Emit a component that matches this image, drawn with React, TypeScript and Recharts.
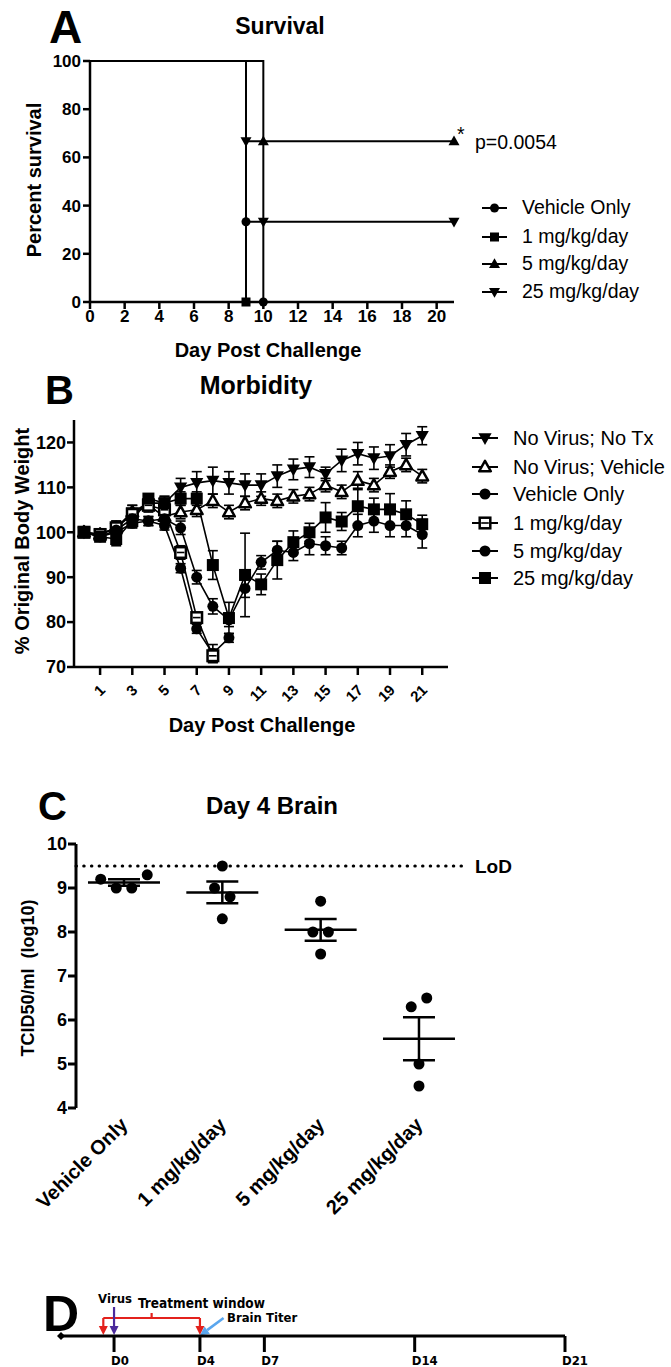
import React from "react";
import {
  ComposedChart,
  Line,
  Scatter,
  XAxis,
  YAxis,
  ErrorBar,
  ReferenceLine,
  ReferenceDot,
} from "recharts";

const FONT = "'Liberation Sans', Arial, Helvetica, sans-serif";
const NARROW = "'Liberation Sans Narrow', 'DejaVu Sans Condensed', 'Liberation Sans', sans-serif";

// ---------- A: survival ----------
const survTicksX = [0, 2, 4, 6, 8, 10, 12, 14, 16, 18, 20];
const survTicksY = [0, 20, 40, 60, 80, 100];
const survVehicleDays = [0, 9, 10];
const survVehiclePct = [100, 33.3, 0];
const surv1Days = [0, 9];
const surv1Pct = [100, 0];
const surv5Days = [0, 10, 21];
const surv5Pct = [100, 66.7, 66.7];
const surv25Days = [0, 9, 10, 21];
const surv25Pct = [100, 66.7, 33.3, 33.3];

// ---------- B: morbidity (% body weight) ----------
const bwDays = [0, 1, 2, 3, 4, 5, 6, 7, 8, 9, 10, 11, 12, 13, 14, 15, 16, 17, 18, 19, 20, 21];
const bwTicksX = [1, 3, 5, 7, 9, 11, 13, 15, 17, 19, 21];
const bwTicksY = [70, 80, 90, 100, 110, 120];
const bwNoVirusNoTx = [100, 99.5, 101, 104.5, 106.5, 106.5, 110, 111, 111.5, 111, 110.5, 110.5, 112.5, 114, 114.5, 113, 116, 117.5, 116.5, 117, 119.5, 121.5];
const bwNoVirusNoTxErr = [0.5, 1, 1.5, 1.5, 1.5, 1.5, 2, 2.5, 3, 2.5, 2.5, 2.5, 2.5, 2.3, 2.3, 1.5, 2.5, 2.5, 2.5, 2.5, 2.5, 2];
const bwNoVirusVeh = [100, 99.5, 101, 104.5, 106, 103.5, 104.5, 105, 107, 104.5, 106.5, 107.5, 107, 108, 108.5, 110.5, 109, 111.5, 110.5, 113.5, 115, 112.5];
const bwNoVirusVehErr = [0.5, 1, 1.5, 1.5, 1.5, 1.5, 1.5, 1.5, 1.5, 1.5, 1.5, 1.5, 1.5, 1.5, 1.5, 1.5, 1.5, 2, 1.5, 1.5, 1.5, 1.5];
const bwVehicle = [100, 99, 100, 102, 102.5, 101.5, 92, 78.5, 73, 76.5];
const bwVehicleErr = [0.5, 1, 1, 1, 1, 1, 1, 1, 2, 1];
const bw1mg = [100, 99.5, 101, 104, 106, 105, 95.5, 81, 72.5];
const bw1mgErr = [0.5, 1, 1, 1, 1, 1, 1.5, 1, 1.5];
const bw5mg = [100, 99, 100.5, 103, 102.5, 103, 101, 90, 83.5, 80.5, 87.5, 93.3, 96, 95.5, 97.5, 97, 96.5, 101.5, 102.5, 101.5, 101.5, 99.5];
const bw5mgErr = [0.5, 1, 1, 1, 1, 1, 1.5, 1.5, 1.7, 1.5, 2, 1.5, 2, 1.8, 2.5, 2, 1.5, 2.5, 2.5, 2.5, 2.5, 3];
const bw25mg = [100, 99, 98.5, 102.5, 107.5, 106.5, 107.5, 107.5, 92.7, 80.9, 90.5, 88.4, 93.8, 97.8, 100, 103.3, 102.4, 105.8, 105.1, 105.1, 104, 101.8];
const bw25mgErr = [0.5, 1, 1.5, 1.5, 1, 1.5, 1.5, 1.5, 3.2, 3.5, 9.3, 2.3, 4.2, 2.5, 2, 3.3, 2, 4, 2.5, 3.5, 3, 2];

// ---------- C: day 4 brain titer ----------
const titerGroups = ["Vehicle Only", "1 mg/kg/day", "5 mg/kg/day", "25 mg/kg/day"];
const titerVehicle = [9.2, 9.0, 9.0, 9.3];
const titer1mg = [9.5, 9.0, 8.8, 8.3];
const titer5mg = [8.7, 8.0, 8.0, 7.5];
const titer25mg = [6.3, 6.5, 5.0, 4.5];
const titerTicksY = [4, 5, 6, 7, 8, 9, 10];
const lodLog10 = 9.5;

// ---------- D: timeline ----------
const tlDays = [0, 4, 7, 14, 21];
const tlStart = -2.47;
const virusDay = 0;
const treatStartDay = -0.5;
const treatEndDay = 4;
const titerDay = 4;

// ---------- helpers ----------
const zip = (days: number[], vals: number[], errs?: number[]) =>
  vals.map((v, i) => ({ day: days[i], v, e: errs ? errs[i] : 0 }));

const mean = (a: number[]) => a.reduce((s, v) => s + v, 0) / a.length;
const sem = (a: number[]) => {
  const m = mean(a);
  const sd = Math.sqrt(a.reduce((s, v) => s + (v - m) * (v - m), 0) / (a.length - 1));
  return sd / Math.sqrt(a.length);
};

// simple beeswarm: points closer than one dot (in px) get spread sideways
const swarm = (vals: number[], gi: number) => {
  const pxPerLog = 44, dot = 11, step = 15.5, pxPerCat = 98.3;
  const order = vals.map((_, i) => i).sort((a, b) => vals[a] - vals[b]);
  const clusters: number[][] = [];
  order.forEach((idx, k) => {
    if (k > 0 && (vals[idx] - vals[order[k - 1]]) * pxPerLog < dot) clusters[clusters.length - 1].push(idx);
    else clusters.push([idx]);
  });
  const off = new Array(vals.length).fill(0);
  clusters.forEach((c) => {
    c.sort((a, b) => a - b).forEach((idx, j) => {
      off[idx] = ((j - (c.length - 1) / 2) * step) / pxPerCat;
    });
  });
  return vals.map((v, i) => ({ x: gi + off[i], y: v }));
};

type Kind = "circle" | "square" | "up" | "down" | "openUp" | "openSquare";

const Marker = ({ cx, cy, kind, s }: { cx: number; cy: number; kind: Kind; s: number }) => {
  if (cx == null || cy == null) return null;
  const h = s / 2;
  switch (kind) {
    case "circle":
      return <circle cx={cx} cy={cy} r={h} fill="#000" />;
    case "square":
      return <rect x={cx - h} y={cy - h} width={s} height={s} fill="#000" />;
    case "up":
      return <polygon points={`${cx},${cy - h * 1.15} ${cx + h * 1.1},${cy + h * 0.8} ${cx - h * 1.1},${cy + h * 0.8}`} fill="#000" />;
    case "down":
      return <polygon points={`${cx},${cy + h * 1.15} ${cx + h * 1.1},${cy - h * 0.8} ${cx - h * 1.1},${cy - h * 0.8}`} fill="#000" />;
    case "openUp": {
      const k = h - 1.2;
      return (
        <polygon
          points={`${cx},${cy - k * 1.15} ${cx + k * 1.1},${cy + k * 0.8} ${cx - k * 1.1},${cy + k * 0.8}`}
          fill="#fff"
          stroke="#000"
          strokeWidth={2.5}
          strokeLinejoin="round"
        />
      );
    }
    case "openSquare": {
      const k = h - 1.2;
      return (
        <g>
          <rect x={cx - k} y={cy - k} width={2 * k} height={2 * k} fill="#fff" stroke="#000" strokeWidth={2.5} />
          <line x1={cx - k + 1.5} x2={cx + k - 1.5} y1={cy} y2={cy} stroke="#000" strokeWidth={1.6} />
        </g>
      );
    }
  }
  return null;
};

const dotOf = (kind: Kind, s: number, skipFirst = false) => (p: any) =>
  skipFirst && p.index === 0 ? (
    <g key={`d${p.index}`} />
  ) : (
    <Marker key={`d${p.index}`} cx={p.cx} cy={p.cy} kind={kind} s={s} />
  );

// text placed by baseline
const T = ({ x, y, size, bold = false, anchor = "start", font = FONT, color = "#000", children }: any) => (
  <div
    style={{
      position: "absolute",
      left: x,
      top: y - 0.85 * size,
      fontSize: size,
      lineHeight: 1,
      fontWeight: bold ? 700 : 400,
      fontFamily: font,
      color,
      whiteSpace: "nowrap",
      transform: anchor === "middle" ? "translateX(-50%)" : anchor === "end" ? "translateX(-100%)" : undefined,
    }}
  >
    {children}
  </div>
);

const VT = ({ cx, cy, size, children }: any) => (
  <div
    style={{
      position: "absolute",
      left: cx,
      top: cy,
      fontSize: size,
      lineHeight: 1,
      fontWeight: 700,
      fontFamily: FONT,
      whiteSpace: "pre",
      transform: "translate(-50%, -50%) rotate(-90deg)",
    }}
  >
    {children}
  </div>
);

const LegendRow = ({ x1, x2, y, kind, s, label, tx, size }: any) => (
  <>
    <svg style={{ position: "absolute", left: x1, top: y - 10 }} width={x2 - x1} height={20}>
      <line x1={0} x2={x2 - x1} y1={10} y2={10} stroke="#000" strokeWidth={2} />
      <Marker cx={(x2 - x1) / 2} cy={10} kind={kind} s={s} />
    </svg>
    <T x={tx} y={y + 7} size={size}>
      {label}
    </T>
  </>
);

const axisStyle = (w: number) => ({ stroke: "#000", strokeWidth: w });
const tickFont = (size: number) => ({ fontSize: size, fontWeight: 700, fill: "#000", fontFamily: FONT });

const DayTick = ({ x, y, payload }: any) => (
  <text
    x={x + 6}
    y={y + 14}
    transform={`rotate(-45 ${x + 6} ${y + 14})`}
    textAnchor="end"
    fontSize={15}
    fontWeight={700}
    fontFamily={FONT}
    fill="#000"
  >
    {payload.value}
  </text>
);

const CatTick = ({ x, y, payload }: any) => (
  <text
    x={x + 5}
    y={y + 16}
    transform={`rotate(-45 ${x + 5} ${y + 16})`}
    textAnchor="end"
    fontSize={20}
    fontWeight={700}
    fontFamily={FONT}
    fill="#000"
  >
    {titerGroups[payload.value]}
  </text>
);

const TlTick = ({ x, y, payload }: any) => (
  <text x={x - 3} y={y + 11} textAnchor="start" fontSize={13} fontWeight={700} fontFamily={NARROW} fill="#000">
    {"D" + payload.value}
  </text>
);

const arrow = (color: string, head: boolean, w = 2.2) => (p: any) => {
  const { x1, y1, x2, y2 } = p;
  if (x1 == null) return <g />;
  const ang = Math.atan2(y2 - y1, x2 - x1);
  const L = 9, W = 4.5;
  const bx = x2 - L * Math.cos(ang), by = y2 - L * Math.sin(ang);
  const px = -Math.sin(ang) * W, py = Math.cos(ang) * W;
  return (
    <g>
      <line x1={x1} y1={y1} x2={head ? bx : x2} y2={head ? by : y2} stroke={color} strokeWidth={w} />
      {head && <polygon points={`${x2},${y2} ${bx + px},${by + py} ${bx - px},${by - py}`} fill={color} />}
    </g>
  );
};

const MeanBar = (p: any) => (
  <line x1={p.cx - 36} x2={p.cx + 36} y1={p.cy} y2={p.cy} stroke="#000" strokeWidth={2.5} />
);
const TiterDot = (p: any) => <circle cx={p.cx} cy={p.cy} r={5.5} fill="#000" />;

export default function App() {
  const survData = [
    { d: zip(survVehicleDays, survVehiclePct), kind: "circle" as Kind, s: 9 },
    { d: zip(surv1Days, surv1Pct), kind: "square" as Kind, s: 9 },
    { d: zip(surv5Days, surv5Pct), kind: "up" as Kind, s: 10 },
    { d: zip(surv25Days, surv25Pct), kind: "down" as Kind, s: 10 },
  ];

  const bwSeries = [
    { d: zip(bwDays, bwNoVirusNoTx, bwNoVirusNoTxErr), kind: "down" as Kind, s: 12 },
    { d: zip(bwDays, bwNoVirusVeh, bwNoVirusVehErr), kind: "openUp" as Kind, s: 13 },
    { d: zip(bwDays, bwVehicle, bwVehicleErr), kind: "circle" as Kind, s: 11 },
    { d: zip(bwDays, bw1mg, bw1mgErr), kind: "openSquare" as Kind, s: 13 },
    { d: zip(bwDays, bw5mg, bw5mgErr), kind: "circle" as Kind, s: 11 },
    { d: zip(bwDays, bw25mg, bw25mgErr), kind: "square" as Kind, s: 12 },
  ];

  const titerSets = [titerVehicle, titer1mg, titer5mg, titer25mg];
  const titerPoints = titerSets.flatMap((vals, gi) => swarm(vals, gi));
  const titerMeans = titerSets.map((vals, gi) => ({ x: gi, y: mean(vals), e: sem(vals) }));

  return (
    <div style={{ position: "absolute", left: 0, top: 0, width: 671, height: 1367, background: "#fff", fontFamily: FONT }}>
      {/* ---------- A ---------- */}
      <div style={{ position: "absolute", left: 0, top: 0 }}>
        <ComposedChart width={671} height={370} margin={{ top: 61, right: 217, bottom: 38, left: 0 }}>
          <XAxis
            type="number"
            dataKey="day"
            domain={[0, 21]}
            ticks={survTicksX}
            interval={0}
            height={30}
            tickSize={7}
            tickMargin={1}
            axisLine={axisStyle(2.5)}
            tickLine={axisStyle(2.5)}
            tick={tickFont(17)}
          />
          <YAxis
            type="number"
            domain={[0, 100]}
            ticks={survTicksY}
            interval={0}
            width={90}
            tickSize={7}
            tickMargin={2}
            axisLine={axisStyle(2.5)}
            tickLine={axisStyle(2.5)}
            tick={tickFont(17)}
          />
          {survData.map((s, i) => (
            <Line
              key={i}
              data={s.d}
              dataKey="v"
              type="stepAfter"
              stroke="#000"
              strokeWidth={2}
              dot={dotOf(s.kind, s.s, true)}
              activeDot={false}
              isAnimationActive={false}
            />
          ))}
        </ComposedChart>
      </div>

      {/* ---------- B ---------- */}
      <div style={{ position: "absolute", left: 0, top: 370 }}>
        <ComposedChart width={671} height={380} margin={{ top: 50, right: 223, bottom: 43, left: 0 }}>
          <XAxis
            type="number"
            dataKey="day"
            domain={[-0.62, 22.6]}
            ticks={bwTicksX}
            interval={0}
            height={40}
            tickSize={8}
            axisLine={axisStyle(2.5)}
            tickLine={axisStyle(2.5)}
            tick={<DayTick />}
          />
          <YAxis
            type="number"
            domain={[70, 125]}
            ticks={bwTicksY}
            interval={0}
            width={74}
            tickSize={7}
            tickMargin={1}
            axisLine={axisStyle(2.5)}
            tickLine={axisStyle(2.5)}
            tick={tickFont(18)}
          />
          {bwSeries.map((s, i) => (
            <Line
              key={i}
              data={s.d}
              dataKey="v"
              type="linear"
              stroke="#000"
              strokeWidth={1.6}
              dot={dotOf(s.kind, s.s)}
              activeDot={false}
              isAnimationActive={false}
            >
              <ErrorBar dataKey="e" width={5} stroke="#000" strokeWidth={1.6} direction="y" />
            </Line>
          ))}
        </ComposedChart>
      </div>

      {/* ---------- C ---------- */}
      <div style={{ position: "absolute", left: 0, top: 780 }}>
        <ComposedChart width={671} height={460} margin={{ top: 64, right: 206, bottom: 32, left: 0 }}>
          <XAxis
            type="number"
            dataKey="x"
            domain={[-0.488, 3.468]}
            ticks={[0, 1, 2, 3]}
            interval={0}
            height={100}
            tickSize={0}
            axisLine={false}
            tickLine={false}
            tick={<CatTick />}
          />
          <YAxis
            type="number"
            dataKey="y"
            domain={[4, 10]}
            ticks={titerTicksY}
            interval={0}
            width={76}
            tickSize={8}
            tickMargin={1}
            axisLine={axisStyle(3)}
            tickLine={axisStyle(3)}
            tick={tickFont(18)}
          />
          <ReferenceLine
            y={lodLog10}
            stroke="#000"
            strokeWidth={3}
            strokeDasharray="0.5 7.2"
            strokeLinecap="round"
            label={{ value: "LoD", position: "right", offset: 10, fill: "#000", fontSize: 19, fontWeight: 700, fontFamily: FONT }}
          />
          <Scatter data={titerPoints} dataKey="y" shape={TiterDot} isAnimationActive={false} />
          <Scatter data={titerMeans} dataKey="y" shape={MeanBar} isAnimationActive={false}>
            <ErrorBar dataKey="e" width={16} stroke="#000" strokeWidth={2.5} direction="y" />
          </Scatter>
        </ComposedChart>
      </div>

      {/* ---------- D ---------- */}
      <div style={{ position: "absolute", left: 0, top: 1280 }}>
        <ComposedChart width={671} height={87} margin={{ top: 16, right: 106, bottom: 0, left: 61 }}>
          <XAxis
            type="number"
            dataKey="day"
            domain={[tlStart, 21]}
            ticks={tlDays}
            interval={0}
            height={31}
            tickSize={16}
            tickMargin={2}
            axisLine={axisStyle(3)}
            tickLine={axisStyle(3)}
            tick={<TlTick />}
          />
          <YAxis hide type="number" domain={[0, 4]} />
          <Line
            data={tlDays.map((d) => ({ day: d, v: 0 }))}
            dataKey="v"
            stroke="none"
            dot={false}
            activeDot={false}
            isAnimationActive={false}
          />
          <ReferenceDot
            x={tlStart}
            y={0}
            r={4}
            shape={(p: any) => (
              <polygon points={`${p.cx - 4},${p.cy} ${p.cx},${p.cy - 4} ${p.cx + 4},${p.cy} ${p.cx},${p.cy + 4}`} fill="#000" />
            )}
          />
          <ReferenceLine segment={[{ x: treatStartDay, y: 1.8 }, { x: treatEndDay, y: 1.8 }]} shape={arrow("#e3211c", false)} />
          <ReferenceLine
            segment={[{ x: (treatStartDay + treatEndDay) / 2, y: 1.8 }, { x: (treatStartDay + treatEndDay) / 2, y: 2.3 }]}
            shape={arrow("#e3211c", false)}
          />
          <ReferenceLine segment={[{ x: treatStartDay, y: 1.8 }, { x: treatStartDay, y: 0.1 }]} shape={arrow("#e3211c", true)} />
          <ReferenceLine segment={[{ x: treatEndDay, y: 1.8 }, { x: treatEndDay, y: 0.1 }]} shape={arrow("#e3211c", true)} />
          <ReferenceLine segment={[{ x: virusDay, y: 2.9 }, { x: virusDay, y: 0.1 }]} shape={arrow("#4b2a9c", true)} />
          <ReferenceLine segment={[{ x: titerDay + 1.1, y: 1.8 }, { x: titerDay, y: 0.05 }]} shape={arrow("#5aa6ee", true, 2.6)} />
        </ComposedChart>
      </div>

      {/* ---------- text ---------- */}
      <T x={49} y={43} size={46} bold>A</T>
      <T x={280} y={35} size={23} bold anchor="middle">Survival</T>
      <VT cx={34} cy={180} size={20}>Percent survival</VT>
      <T x={268} y={357} size={20} bold anchor="middle">Day Post Challenge</T>
      <T x={457} y={142} size={19.5}>*</T>
      <T x={475} y={150} size={19.5}>p=0.0054</T>
      <LegendRow x1={482} x2={507} y={208} kind="circle" s={9} label="Vehicle Only" tx={522} size={19.5} />
      <LegendRow x1={482} x2={507} y={237} kind="square" s={9} label="1 mg/kg/day" tx={522} size={19.5} />
      <LegendRow x1={482} x2={507} y={264} kind="up" s={10} label="5 mg/kg/day" tx={522} size={19.5} />
      <LegendRow x1={482} x2={507} y={292} kind="down" s={10} label="25 mg/kg/day" tx={522} size={19.5} />

      <T x={45} y={404} size={40} bold>B</T>
      <T x={256} y={394} size={25} bold anchor="middle">Morbidity</T>
      <VT cx={22} cy={541} size={20}>% Original Body Weight</VT>
      <T x={262} y={732} size={20} bold anchor="middle">Day Post Challenge</T>
      <LegendRow x1={472} x2={498} y={438} kind="down" s={12} label="No Virus; No Tx" tx={513} size={20} />
      <LegendRow x1={472} x2={498} y={467} kind="openUp" s={13} label="No Virus; Vehicle" tx={513} size={20} />
      <LegendRow x1={472} x2={498} y={494} kind="circle" s={11} label="Vehicle Only" tx={513} size={20} />
      <LegendRow x1={472} x2={498} y={523} kind="openSquare" s={13} label="1 mg/kg/day" tx={513} size={20} />
      <LegendRow x1={472} x2={498} y={551} kind="circle" s={11} label="5 mg/kg/day" tx={513} size={20} />
      <LegendRow x1={472} x2={498} y={578} kind="square" s={12} label="25 mg/kg/day" tx={513} size={20} />

      <T x={38} y={820} size={40} bold>C</T>
      <T x={272} y={814} size={24} bold anchor="middle">Day 4 Brain</T>
      <VT cx={28} cy={978} size={18}>{"TCID50/ml  (log10)"}</VT>

      <T x={43} y={1331} size={50} bold>D</T>
      <T x={115} y={1303} size={13} bold anchor="middle" font={NARROW}>Virus</T>
      <T x={138} y={1308} size={13.5} bold font={NARROW}>Treatment window</T>
      <T x={227} y={1322} size={13} bold font={NARROW}>Brain Titer</T>
    </div>
  );
}
